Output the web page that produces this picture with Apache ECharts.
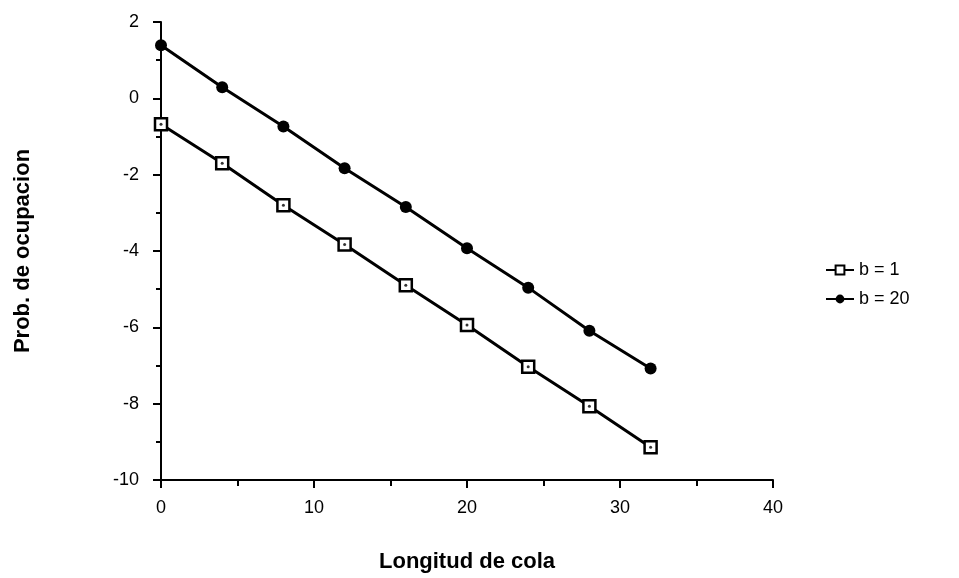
<!DOCTYPE html>
<html>
<head>
<meta charset="utf-8">
<script src="https://cdn.jsdelivr.net/npm/echarts@6/dist/echarts.min.js"></script>
<style>
  html, body { margin: 0; padding: 0; background: #fff; }
  #chart { width: 959px; height: 578px; }
</style>
</head>
<body>
<div id="chart"></div>
<script>
// longitud de cola (eje x)
var colas = [0, 4, 8, 12, 16, 20, 24, 28, 32];
// prob. de ocupacion
var b1 = [-0.68, -1.70, -2.80, -3.83, -4.90, -5.94, -7.03, -8.07, -9.14];
var b20 = [1.39, 0.29, -0.74, -1.83, -2.85, -3.93, -4.96, -6.09, -7.08];
var nombres = ['b = 1', 'b = 20'];

function pares(ys) {
    var out = [];
    for (var i = 0; i < colas.length; i++) {
        out.push([colas[i], ys[i]]);
    }
    return out;
}

var fuente = '"Liberation Sans", Arial, sans-serif';

var myChart = echarts.init(document.getElementById('chart'));
var option = {
    animation: false,
    grid: { left: 161, right: 186, top: 22, bottom: 96 },
    legend: {
        orient: 'vertical',
        left: 820,
        top: 256,
        itemWidth: 28,
        itemHeight: 11,
        itemGap: 11,
        data: nombres,
        textStyle: { fontFamily: fuente, fontSize: 18, color: '#000' }
    },
    xAxis: {
        type: 'value',
        min: 0,
        max: 40,
        interval: 10,
        name: 'Longitud de cola',
        nameLocation: 'middle',
        nameGap: 71,
        nameTextStyle: { fontFamily: fuente, fontSize: 22, fontWeight: 'bold', color: '#000' },
        axisLine: { onZero: false, lineStyle: { color: '#000', width: 2 } },
        axisTick: { length: 8, lineStyle: { color: '#000', width: 2 } },
        minorTick: { show: true, splitNumber: 2, length: 6, lineStyle: { color: '#000', width: 2 } },
        axisLabel: { margin: 19, fontFamily: fuente, fontSize: 18, color: '#000' },
        splitLine: { show: false }
    },
    yAxis: {
        type: 'value',
        min: -10,
        max: 2,
        interval: 2,
        name: 'Prob. de ocupacion',
        nameLocation: 'middle',
        nameGap: 127,
        nameTextStyle: { fontFamily: fuente, fontSize: 22, fontWeight: 'bold', color: '#000' },
        axisLine: { onZero: false, lineStyle: { color: '#000', width: 2 } },
        axisTick: { length: 8, lineStyle: { color: '#000', width: 2 } },
        minorTick: { show: true, splitNumber: 2, length: 5, lineStyle: { color: '#000', width: 2 } },
        axisLabel: { margin: 22, fontFamily: fuente, fontSize: 18, color: '#000' },
        splitLine: { show: false }
    },
    series: [
        {
            name: nombres[0],
            type: 'line',
            data: pares(b1),
            symbol: 'rect',
            symbolSize: 12,
            lineStyle: { color: '#000', width: 3 },
            itemStyle: { color: '#fff', borderColor: '#000', borderWidth: 2.5 },
            z: 3
        },
        {
            // punto central de los cuadrados
            name: 'centro',
            type: 'scatter',
            data: pares(b1),
            symbol: 'circle',
            symbolSize: 3,
            silent: true,
            itemStyle: { color: '#000' },
            z: 4
        },
        {
            name: nombres[1],
            type: 'line',
            data: pares(b20),
            symbol: 'circle',
            symbolSize: 12,
            lineStyle: { color: '#000', width: 3 },
            itemStyle: { color: '#000' },
            z: 3
        }
    ]
};
myChart.setOption(option);
</script>
</body>
</html>
